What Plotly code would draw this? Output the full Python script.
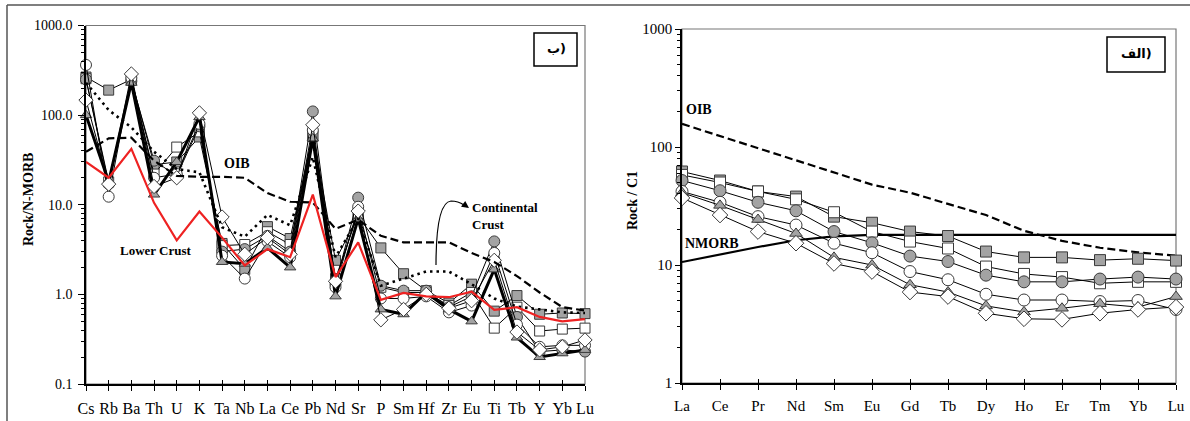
import plotly.graph_objects as go

W, H = 1190, 421

# ---------------- data: left panel (N-MORB normalised spider) ----------------
elements_n = ["Cs", "Rb", "Ba", "Th", "U", "K", "Ta", "Nb", "La", "Ce", "Pb", "Nd",
              "Sr", "P", "Sm", "Hf", "Zr", "Eu", "Ti", "Tb", "Y", "Yb", "Lu"]

n_gray_square = [266, 190, 250, 28, 30, 57, 3.7, 1.9, 5.7, 4.2, 60, 2.4, 7.5, 3.3, 1.7, 1.1, 0.8, 1.3, 0.65, 0.97, 0.6, 0.62, 0.61]
n_open_square = [255, 18, 245, 22, 44, 65, 3.5, 3.6, 5.0, 3.6, 58, 1.5, 8.0, 1.2, 1.05, 1.05, 0.75, 1.05, 0.42, 0.72, 0.39, 0.41, 0.42]
n_gray_circle = [250, 17, 240, 31, 21, 75, 3.0, 3.2, 4.5, 3.0, 110, 1.3, 12, 1.25, 1.1, 1.1, 0.72, 0.95, 3.9, 0.56, 0.23, 0.24, 0.23]
n_open_circle = [363, 12.3, 260, 20, 22, 80, 2.7, 1.5, 3.9, 2.6, 68, 1.2, 9.5, 0.9, 0.9, 0.95, 0.63, 0.75, 2.9, 0.46, 0.26, 0.27, 0.27]
n_gray_triangle = [100, 18, 230, 13, 30, 95, 2.3, 2.2, 3.3, 2.0, 55, 0.95, 7.0, 0.68, 0.6, 1.05, 0.68, 0.5, 1.9, 0.33, 0.2, 0.22, 0.24]
n_open_diamond = [147, 17, 288, 16, 20, 106, 7.3, 2.8, 4.3, 2.8, 78, 1.4, 8.5, 0.52, 0.68, 1.0, 0.7, 0.85, 2.4, 0.38, 0.24, 0.26, 0.31]

n_oib = [39, 55, 56, 31, 21, 20.5, 20.5, 20, 13.5, 10.8, 10.6, 5.4, 6.8, 4.5, 3.8, 3.8, 3.8, 2.9, 2.3, 1.6, 1.05, 0.72, 0.66]
n_cont_crust = [230, 114, 73, 39, 25, 23, 5.6, 4.4, 7.7, 5.9, 34, 2.6, 7.0, 1.25, 1.5, 1.8, 1.8, 1.3, 0.9, 0.73, 0.68, 0.63, 0.62]
n_lower_crust = [30, 20, 42, 10.5, 4.0, 8.4, 4.3, 2.1, 3.2, 2.6, 13, 1.56, 3.8, 0.87, 1.04, 0.95, 0.93, 1.07, 0.67, 0.72, 0.56, 0.50, 0.53]

n_tick_vals = [0.1, 1, 10, 100, 1000]
n_tick_text = ["0.1", "1.0", "10.0", "100.0", "1000.0"]

# ---------------- data: right panel (chondrite normalised REE) ----------------
elements_c = ["La", "Ce", "Pr", "Nd", "Sm", "Eu", "Gd", "Tb", "Dy", "Ho", "Er", "Tm", "Yb", "Lu"]

c_gray_square = [62, 52, 42, 38, 25.7, 22.8, 19.2, 17.6, 13, 11.6, 11.6, 11, 11.3, 10.9]
c_open_square = [58, 50, 42, 36, 28, 19.2, 15.8, 13.8, 9.7, 8.4, 7.9, 7.0, 7.2, 7.2]
c_gray_circle = [52, 42.6, 34, 28.8, 19.2, 15.4, 11.9, 10.7, 8.2, 7.2, 7.2, 7.6, 7.9, 7.6]
c_open_circle = [42, 34, 25.7, 21.8, 15.3, 12.7, 8.8, 7.5, 5.65, 5.05, 5.05, 4.9, 5.0, 4.2]
c_gray_triangle = [41, 32, 24.3, 18.5, 11.6, 10, 6.8, 5.9, 4.5, 4.0, 4.3, 4.7, 4.4, 5.4]
c_open_diamond = [37, 26.5, 19.2, 15.3, 10.3, 8.8, 5.9, 5.4, 3.9, 3.5, 3.46, 3.9, 4.2, 4.4]

c_oib = [157, 124, 98, 77, 61, 48, 41, 33, 26.5, 19.5, 16, 14, 12.8, 12]
c_nmorb = [10.6, 12.3, 14.2, 16.2, 17.5, 18, 18, 18, 18, 18, 18, 18, 18, 18]

c_tick_vals = [1, 10, 100, 1000]
c_tick_text = ["1", "10", "100", "1000"]


def fx(p):
    return p / W


def fy(p):
    return 1 - p / H


SERIF = "Liberation Serif, Times New Roman, serif"
GRAY = "#a3a3a3"
EDGE = "#3a3a3a"

fig = go.Figure()

sample_styles = [
    ("square", GRAY, 10, 1.0),
    ("square", "white", 10, 1.0),
    ("circle", GRAY, 11, 1.0),
    ("circle", "white", 11, 1.0),
    ("triangle-up", GRAY, 10, 3.0),
    ("diamond", "white", 11, 1.0),
]

left_series = [n_gray_square, n_open_square, n_gray_circle, n_open_circle, n_gray_triangle, n_open_diamond]
right_series = [c_gray_square, c_open_square, c_gray_circle, c_open_circle, c_gray_triangle, c_open_diamond]

# ---- left panel samples ----
for vals, (sym, fill, size, lw) in zip(left_series, sample_styles):
    fig.add_trace(go.Scatter(
        x=elements_n, y=vals, mode="lines+markers", xaxis="x", yaxis="y",
        line=dict(color="black", width=lw),
        marker=dict(symbol=sym, color=fill, size=size, line=dict(color=EDGE, width=1)),
        cliponaxis=False, showlegend=False, hoverinfo="skip"))

# ---- left panel reference curves ----
fig.add_trace(go.Scatter(x=elements_n, y=n_cont_crust, mode="lines", xaxis="x", yaxis="y",
                         line=dict(color="black", width=2.6, dash="2.5px,4px"),
                         showlegend=False, hoverinfo="skip"))
fig.add_trace(go.Scatter(x=elements_n, y=n_oib, mode="lines", xaxis="x", yaxis="y",
                         line=dict(color="black", width=2.2, dash="8px,4px"),
                         showlegend=False, hoverinfo="skip"))
fig.add_trace(go.Scatter(x=elements_n, y=n_lower_crust, mode="lines", xaxis="x", yaxis="y",
                         line=dict(color="#ee2222", width=2.2),
                         showlegend=False, hoverinfo="skip"))

# ---- right panel reference curves ----
fig.add_trace(go.Scatter(x=elements_c, y=c_oib, mode="lines", xaxis="x2", yaxis="y2",
                         line=dict(color="black", width=2.2, dash="8px,4px"),
                         showlegend=False, hoverinfo="skip"))
fig.add_trace(go.Scatter(x=elements_c, y=c_nmorb, mode="lines", xaxis="x2", yaxis="y2",
                         line=dict(color="black", width=2.2),
                         showlegend=False, hoverinfo="skip"))

# ---- right panel samples ----
for vals, (sym, fill, size, lw) in zip(right_series, sample_styles):
    fig.add_trace(go.Scatter(
        x=elements_c, y=vals, mode="lines+markers", xaxis="x2", yaxis="y2",
        line=dict(color="black", width=1.0),
        marker=dict(symbol=sym, color=fill, size=size + 1, line=dict(color=EDGE, width=1)),
        cliponaxis=False, showlegend=False, hoverinfo="skip"))

# dummy traces for the overlay axes (crossing tick marks)
fig.add_trace(go.Scatter(x=elements_n, y=[None] * len(elements_n), xaxis="x3", yaxis="y",
                         mode="markers", showlegend=False, hoverinfo="skip"))
fig.add_trace(go.Scatter(x=elements_c, y=[None] * len(elements_c), xaxis="x4", yaxis="y2",
                         mode="markers", showlegend=False, hoverinfo="skip"))

L_dom_x = [fx(86), fx(585)]
L_dom_y = [fy(384), fy(25.5)]
R_dom_x = [fx(682), fx(1176)]
R_dom_y = [fy(383), fy(29)]

minor_left = [m * 10 ** e for e in range(-1, 3) for m in range(2, 10)]
minor_right = [m * 10 ** e for e in range(0, 3) for m in range(2, 10)]

xcommon = dict(type="category", showgrid=False, zeroline=False, showline=True,
               linecolor="black", linewidth=1.6, ticks="outside", ticklen=5,
               tickcolor="black", tickwidth=1.2, automargin=False)

fig.update_layout(
    width=W, height=H,
    margin=dict(l=0, r=0, t=0, b=0, autoexpand=False),
    paper_bgcolor="white", plot_bgcolor="white",
    xaxis=dict(domain=L_dom_x, anchor="y", range=[0, len(elements_n) - 1],
               categoryorder="array", categoryarray=elements_n,
               tickfont=dict(family=SERIF, size=16, color="black"),
               ticklabelstandoff=4, **xcommon),
    xaxis3=dict(domain=L_dom_x, anchor="y", overlaying="x", range=[0, len(elements_n) - 1],
                type="category", categoryorder="array", categoryarray=elements_n,
                showgrid=False, zeroline=False, showline=False, ticks="inside",
                ticklen=4, tickwidth=1.2, tickcolor="black", showticklabels=False,
                automargin=False),
    yaxis=dict(domain=L_dom_y, anchor="x", type="log", range=[-1, 3],
               tickvals=n_tick_vals, ticktext=n_tick_text, showgrid=False, zeroline=False,
               showline=True, linecolor="black", linewidth=1.6, ticks="outside",
               ticklen=6, tickwidth=1.2, tickcolor="black", automargin=False,
               tickfont=dict(family=SERIF, size=14, color="black"), ticklabelstandoff=3,
               minor=dict(tickvals=minor_left, ticks="outside", ticklen=3,
                          tickcolor="black", tickwidth=1, showgrid=False)),
    xaxis2=dict(domain=R_dom_x, anchor="y2", range=[0, len(elements_c) - 1],
                categoryorder="array", categoryarray=elements_c,
                tickfont=dict(family=SERIF, size=15, color="black"),
                ticklabelstandoff=3, **xcommon),
    xaxis4=dict(domain=R_dom_x, anchor="y2", overlaying="x2", range=[0, len(elements_c) - 1],
                type="category", categoryorder="array", categoryarray=elements_c,
                showgrid=False, zeroline=False, showline=False, ticks="inside",
                ticklen=4, tickwidth=1.2, tickcolor="black", showticklabels=False,
                automargin=False),
    yaxis2=dict(domain=R_dom_y, anchor="x2", type="log", range=[0, 3],
                tickvals=c_tick_vals, ticktext=c_tick_text, showgrid=False, zeroline=False,
                showline=True, linecolor="black", linewidth=1.6, ticks="outside",
                ticklen=5, tickwidth=1.2, tickcolor="black", automargin=False,
                tickfont=dict(family=SERIF, size=15, color="black"), ticklabelstandoff=0,
                minor=dict(tickvals=minor_right, ticks="outside", ticklen=3,
                           tickcolor="black", tickwidth=1, showgrid=False)),
)

shapes = []
# plot frames (top/right)
shapes.append(dict(type="rect", xref="paper", yref="paper", x0=fx(86), x1=fx(585),
                   y0=fy(384), y1=fy(25.5), line=dict(color="#777", width=1.2), layer="below"))
shapes.append(dict(type="rect", xref="paper", yref="paper", x0=fx(682), x1=fx(1176),
                   y0=fy(383), y1=fy(29), line=dict(color="#777", width=1.2), layer="below"))
# outer figure border (top and left)
shapes.append(dict(type="line", xref="paper", yref="paper", x0=fx(7), x1=1,
                   y0=fy(5), y1=fy(5), line=dict(color="#555", width=1.5)))
shapes.append(dict(type="line", xref="paper", yref="paper", x0=fx(7), x1=fx(7),
                   y0=0, y1=fy(5), line=dict(color="#555", width=1.5)))
# label boxes
shapes.append(dict(type="rect", xref="paper", yref="paper", x0=fx(534), x1=fx(577),
                   y0=fy(66), y1=fy(33), line=dict(color="black", width=1.5)))
shapes.append(dict(type="rect", xref="paper", yref="paper", x0=fx(1107), x1=fx(1165),
                   y0=fy(72), y1=fy(37), line=dict(color="black", width=1.5)))
# curved arrow stem for "Continental Crust"
pts = [(436, 265), (436, 228), (440, 202), (451, 201), (457, 201), (461, 203), (464, 205)]
path = "M {},{} C {},{} {},{} {},{} C {},{} {},{} {},{}".format(
    *[v for (px_, py_) in pts for v in (fx(px_), fy(py_))])
shapes.append(dict(type="path", xref="paper", yref="paper", path=path,
                   line=dict(color="black", width=1.2)))
fig.update_layout(shapes=shapes)

bold = dict(family=SERIF, size=14, color="black")
annotations = [
    dict(x=fx(237), y=fy(164), text="<b>OIB</b>", font=bold, xanchor="center", yanchor="middle"),
    dict(x=fx(156), y=fy(250), text="<b>Lower Crust</b>", font=dict(family=SERIF, size=13, color="black"),
         xanchor="center", yanchor="middle"),
    dict(x=fx(470), y=fy(216), text="<b>Continental</b><br><b>Crust</b>",
         font=dict(family=SERIF, size=13, color="black"), xanchor="left", yanchor="middle", align="left"),
    dict(x=fx(556), y=fy(49), text="<b>ب)</b>", font=dict(family="DejaVu Sans", size=13, color="black"),
         xanchor="center", yanchor="middle"),
    dict(x=fx(684), y=fy(110), text="<b>OIB</b>", font=bold, xanchor="left", yanchor="middle"),
    dict(x=fx(683), y=fy(243), text="<b>NMORB</b>", font=bold, xanchor="left", yanchor="middle"),
    dict(x=fx(1136), y=fy(54), text="<b>الف)</b>", font=dict(family="DejaVu Sans", size=13, color="black"),
         xanchor="center", yanchor="middle"),
    dict(x=fx(28), y=fy(200), text="<b>Rock/N-MORB</b>", font=bold, textangle=-90,
         xanchor="center", yanchor="middle"),
    dict(x=fx(632), y=fy(201), text="<b>Rock / C1</b>", font=bold, textangle=-90,
         xanchor="center", yanchor="middle"),
    # arrow head
    dict(x=fx(469), y=fy(208), ax=-7, ay=-5, text="", showarrow=True, arrowhead=2,
         arrowsize=1.2, arrowwidth=1.2, arrowcolor="black"),
]
for a in annotations:
    a.setdefault("xref", "paper")
    a.setdefault("yref", "paper")
    a.setdefault("showarrow", False)
fig.update_layout(annotations=annotations)

fig.write_html("out.html", config={"displayModeBar": False},
               post_script="document.body.style.margin='0';document.body.style.overflow='hidden';")
